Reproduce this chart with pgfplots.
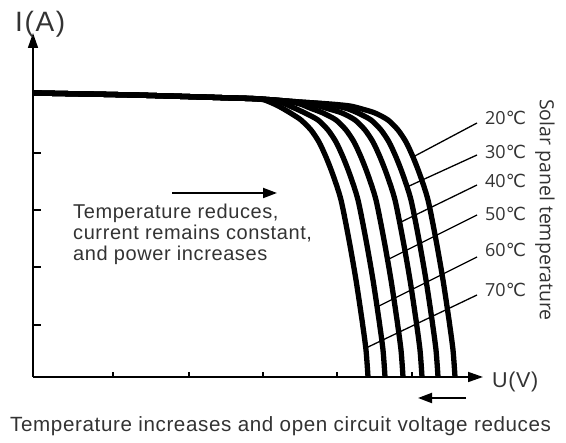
\documentclass[border=0pt]{standalone}
\usepackage{pgfplots}
\pgfplotsset{compat=1.18}
\usepackage{fontspec}
\usetikzlibrary{arrows.meta}
\setmainfont{Liberation Sans}
\newfontfamily\txt[LetterSpace=3]{Liberation Sans}
\newfontfamily\txtw[LetterSpace=6]{Liberation Sans}
\newfontfamily\lab{Open Sans}
\newfontfamily\sym{DejaVu Sans}
\definecolor{txtc}{HTML}{333333}
\tikzset{tlab/.style={anchor=west, inner sep=0pt, text=txtc, font=\lab\fontsize{18}{20}\selectfont}}
\pgfplotsset{curve/.style={no marks, line width=5.3pt, black, line cap=butt, line join=round, smooth, tension=0.45}}
\begin{document}
\begin{tikzpicture}
\path[use as bounding box] (0,0) rectangle (566pt,443pt);
\begin{axis}[at={(33pt,66pt)}, anchor=south west, x=1pt, y=1pt,
  xmin=0, xmax=450, ymin=0, ymax=344, axis lines=left, clip=false,
  axis line style={line width=1.7pt, black, -{Triangle[length=15pt,width=10pt]}},
  xtick={80,156,230,304,379}, ytick={52,110,167,224},
  xticklabels={}, yticklabels={}, tick align=inside,
  major tick length=8pt, tick style={line width=1.7pt, black},
  xtick style={/pgfplots/major tick length=5pt}]
% 20 C
\addplot[curve] coordinates {(0,284)(100,282)(200,279)(227,278)(267,275)(297,273)(317,271)(329,268)(342,264)(355,257)(365,247)(373,235)(380,220)(387,202)(395,177)(403,137)(410,97)(416,57)(420,27)(422,0)};
% 30 C
\addplot[curve] coordinates {(0,284)(100,282)(200,279)(227,278)(267,275)(292,273)(312,269)(325,264)(338,257)(348,247)(356,235)(363,220)(370,202)(378,177)(386,137)(393,97)(399,57)(403,27)(405,0)};
% 40 C
\addplot[curve] coordinates {(0,284)(100,282)(200,279)(227,278)(262,275)(282,272)(296,268)(309,264)(322,257)(332,247)(340,235)(347,220)(354,202)(362,177)(370,137)(377,97)(383,57)(387,27)(389,0)};
% 50 C
\addplot[curve] coordinates {(0,284)(100,282)(200,279)(227,278)(252,276)(267,273)(277,269)(290,264)(303,257)(313,247)(321,235)(328,220)(335,202)(343,177)(351,137)(358,97)(364,57)(368,27)(370,0)};
% 60 C
\addplot[curve] coordinates {(0,284)(100,282)(200,279)(227,278)(247,275)(259,270)(272,264)(285,257)(295,247)(303,235)(310,220)(317,202)(325,177)(333,137)(340,97)(346,57)(350,27)(352,0)};
% 70 C
\addplot[curve] coordinates {(0,284)(100,282)(200,279)(227,278)(239,274)(249,269)(259,263)(268,257)(278,247)(286,235)(293,220)(300,202)(308,177)(316,137)(323,97)(329,57)(333,27)(335,0)};
% leaders
\draw[line width=1.3pt] (axis cs:444,254) -- (axis cs:380,220);
\draw[line width=1.3pt] (axis cs:444,222) -- (axis cs:374,190);
\draw[line width=1.3pt] (axis cs:444,192) -- (axis cs:366,154);
\draw[line width=1.3pt] (axis cs:444,162) -- (axis cs:354,117);
\draw[line width=1.3pt] (axis cs:444,120) -- (axis cs:344,70);
\draw[line width=1.3pt] (axis cs:444,82) -- (axis cs:333,29);
\node[tlab] at (axis cs:452,259) {20{\sym ℃}};
\node[tlab] at (axis cs:452,225) {30{\sym ℃}};
\node[tlab] at (axis cs:452,196) {40{\sym ℃}};
\node[tlab] at (axis cs:452,163) {50{\sym ℃}};
\node[tlab] at (axis cs:452,127) {60{\sym ℃}};
\node[tlab] at (axis cs:452,87) {70{\sym ℃}};
\node[rotate=-90, inner sep=0pt, text=txtc, font=\lab\fontsize{19.5}{22}\selectfont] at (axis cs:512,167) {Solar panel temperature};
% arrows
\draw[line width=2pt, -{Triangle[length=14pt,width=10pt]}] (axis cs:139,184) -- (axis cs:244,184);
\draw[line width=2pt, -{Triangle[length=14pt,width=10pt]}] (axis cs:433,-21) -- (axis cs:385,-21);
% texts
\node[anchor=base west, inner sep=0pt, text=txtc, font=\txt\fontsize{20}{21}\selectfont] at (axis cs:40,158) {Temperature reduces,};
\node[anchor=base west, inner sep=0pt, text=txtc, font=\txt\fontsize{20}{21}\selectfont] at (axis cs:40,137) {current remains constant,};
\node[anchor=base west, inner sep=0pt, text=txtc, font=\txt\fontsize{20}{21}\selectfont] at (axis cs:40,116) {and power increases};
\node[anchor=base west, inner sep=0pt, text=txtc, font=\txt\fontsize{20.6}{22}\selectfont] at (axis cs:-23,-55) {Temperature increases and open circuit voltage reduces};
\node[anchor=base west, inner sep=0pt, text=txtc, font=\txtw\fontsize{28}{30}\selectfont] at (axis cs:-18,345) {I(A)};
\node[anchor=base west, inner sep=0pt, text=txtc, font=\txt\fontsize{21.5}{23}\selectfont] at (axis cs:459,-11) {U(V)};
\end{axis}
\end{tikzpicture}
\end{document}
